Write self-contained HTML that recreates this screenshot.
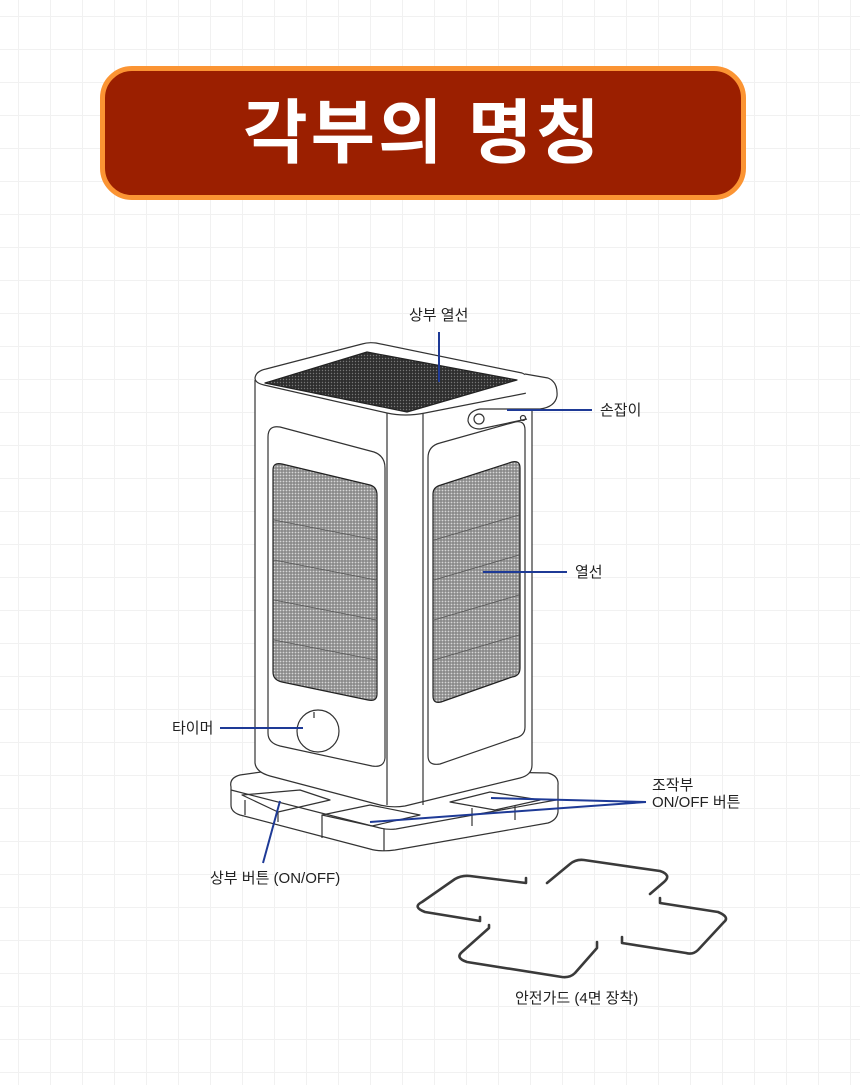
<!DOCTYPE html>
<html><head><meta charset="utf-8">
<style>
html,body{margin:0;padding:0}
body{width:860px;height:1085px;position:relative;overflow:hidden;background-color:#fff;
background-image:linear-gradient(#f1f1f1 1px,transparent 1px),linear-gradient(90deg,#f1f1f1 1px,transparent 1px);
background-size:32px 33px;background-position:18px 16px;font-family:"Liberation Sans","Noto Sans CJK KR",sans-serif}
.title{position:absolute;left:100px;top:66px;width:636px;height:124px;background:#9b1f00;border:5px solid #fb9433;border-radius:32px;color:#fff;font-size:70px;font-weight:bold;text-align:center;line-height:124px;letter-spacing:3px}
.lb{position:absolute;font-size:15px;color:#222;white-space:nowrap;line-height:17px}
svg{position:absolute;left:0;top:0}
</style></head><body>
<div class="title">각부의 명칭</div>
<svg width="860" height="1085" viewBox="0 0 860 1085">
<defs>
<pattern id="dots" width="3" height="3" patternUnits="userSpaceOnUse"><rect width="3" height="3" fill="#8a8a8a"/><circle cx="1.5" cy="1.5" r="0.9" fill="#d6d6d6"/></pattern>
<pattern id="dk" width="3" height="3" patternUnits="userSpaceOnUse"><rect width="3" height="3" fill="#2e2e2e"/><circle cx="1.5" cy="1.5" r="0.7" fill="#777"/></pattern>
</defs>
<g fill="none" stroke="#333" stroke-width="1.2" stroke-linejoin="round">
<!-- base -->
<path d="M231,787 Q229,778 240,775 L290,768 L497,772 L548,773 Q559,776 558,785 L558,812 Q557,820 548,823 L395,850 Q380,852 370,849 L240,815 Q231,812 231,805 Z" fill="#fff"/>
<path d="M231,790 L380,828 Q388,830 396,829 L556,800" />
<path d="M384,829 L384,851"/>
<path d="M242,795 L300,790 L330,800 L278,812 Z"/>
<path d="M245,800 L245,815 M278,812 L278,822 M322,815 L370,805 L420,815 L372,826 Z M322,815 L322,838 M450,802 L490,792 L540,800 L495,810 Z M472,808 L472,826 M515,806 L515,820"/>
<!-- body -->
<path d="M255,380 L255,763 Q256,772 270,776 L380,805 Q392,808 405,806 L520,778 Q532,775 532,765 L532,380" fill="#fff"/>
<path d="M387,412 L387,805 M423,412 L423,805"/>
<!-- top rim -->
<path d="M255,378 Q256,371 266,369 L362,344 Q368,342 376,343 L522,373 Q532,377 530,386 L532,392 L425,413 Q405,417 387,413 L264,385 Q255,383 255,378 Z" fill="#fff"/>
<path d="M265,383 L367,352 L517,380 L407,412 Z" fill="url(#dk)" stroke="#222"/>
<!-- handle -->
<path d="M525,374 L548,378 Q558,382 557,396 Q555,407 540,409 L480,409 Q468,411 468,421 Q470,429 480,429 L527,419" fill="#fff"/>
<circle cx="479" cy="419" r="5"/><circle cx="523" cy="418" r="2.5"/>
<!-- left panel -->
<path d="M268,437 Q268,425 280,427 L374,452 Q385,456 385,468 L385,758 Q384,768 372,766 L280,746 Q268,743 268,733 Z" fill="#fff"/>
<path d="M273,470 Q273,462 282,464 L370,485 Q377,487 377,495 L377,694 Q377,702 368,700 L282,682 Q273,680 273,672 Z" fill="url(#dots)" stroke="#222"/>
<g stroke="#555" stroke-width="0.8"><path d="M274,520 L376,540 M274,560 L376,580 M274,600 L376,620 M274,640 L376,660"/></g>
<circle cx="318" cy="731" r="21" fill="#fff"/><path d="M314,712 v6"/>
<!-- right panel -->
<path d="M428,458 Q428,446 440,443 L515,422 Q525,420 525,430 L525,727 Q525,736 515,738 L440,764 Q428,766 428,756 Z" fill="#fff"/>
<path d="M433,494 Q433,487 441,485 L512,462 Q520,460 520,468 L520,668 Q520,676 512,677 L441,702 Q433,704 433,696 Z" fill="url(#dots)" stroke="#222"/>
<g stroke="#555" stroke-width="0.8"><path d="M434,540 L519,515 M434,580 L519,555 M434,620 L519,595 M434,660 L519,635"/></g>
</g>
<!-- guard -->
<g fill="none" stroke="#3a3a3a" stroke-width="2.6" stroke-linecap="round" stroke-linejoin="round">
<path d="M480,917 L480,921 L425,912 Q412,907 422,902 L455,879 Q462,875 470,876 L526,883 L526,878"/>
<path d="M547,883 L570,864 Q576,859 584,860 L660,871 Q672,875 664,882 L650,894"/>
<path d="M660,898 L660,903 L718,912 Q730,917 724,922 L698,950 Q693,955 686,953 L622,943 L622,937"/>
<path d="M597,942 L597,948 L575,973 Q570,978 562,977 L467,962 Q455,958 462,952 L489,928 L489,925"/>
</g>
<!-- leader lines -->
<g stroke="#1e3a96" stroke-width="2" fill="none">
<path d="M439,332 V382"/>
<path d="M507,410 H592"/>
<path d="M483,572 H567"/>
<path d="M220,728 H303"/>
<path d="M646,802 L491,798 M646,802 L370,822"/>
<path d="M280,801 L263,863"/>
</g>
</svg>
<div class="lb" style="left:409px;top:307px">상부 열선</div>
<div class="lb" style="left:600px;top:402px">손잡이</div>
<div class="lb" style="left:575px;top:564px">열선</div>
<div class="lb" style="left:172px;top:720px">타이머</div>
<div class="lb" style="left:652px;top:777px">조작부</div>
<div class="lb" style="left:652px;top:794px">ON/OFF 버튼</div>
<div class="lb" style="left:210px;top:870px">상부 버튼 (ON/OFF)</div>
<div class="lb" style="left:515px;top:990px">안전가드 (4면 장착)</div>
</body></html>
